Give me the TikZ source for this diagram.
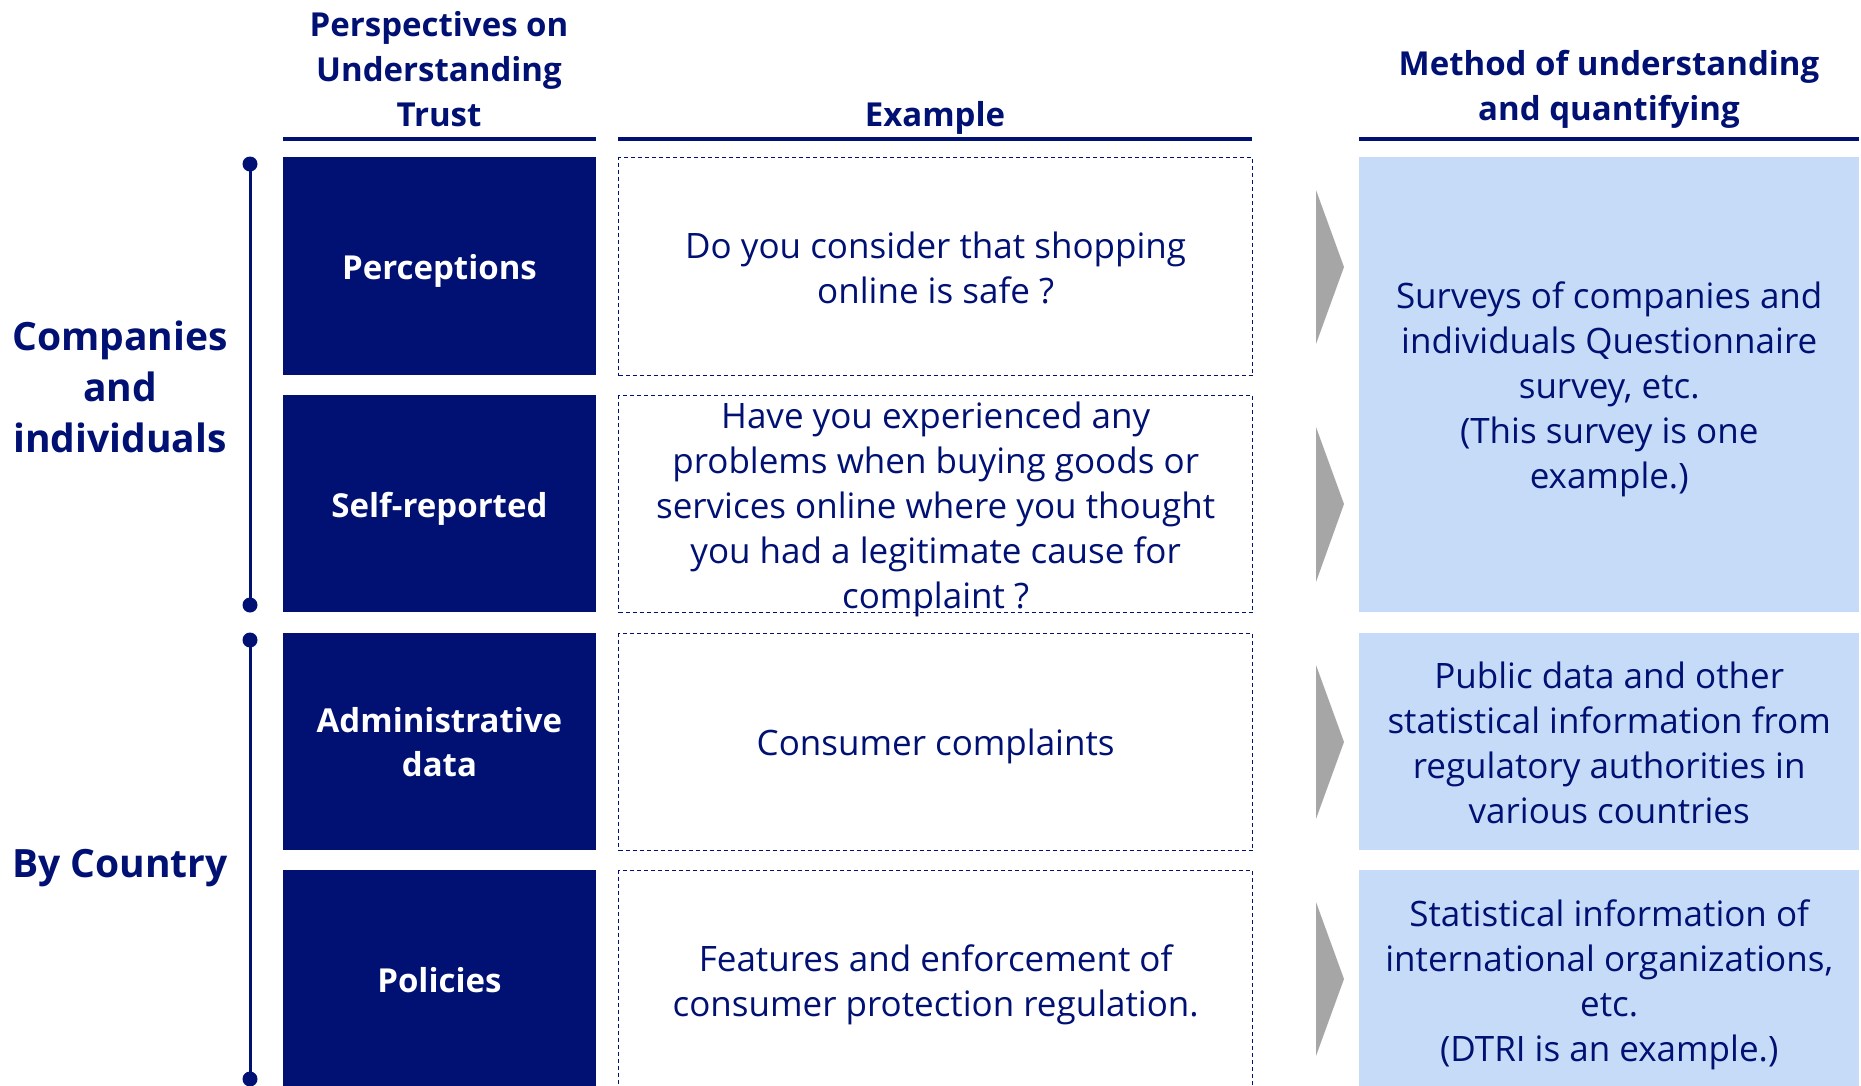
\documentclass[tikz,border=0pt]{standalone}
\usepackage{fontspec}
\setmainfont{Open Sans}
\definecolor{navy}{RGB}{0,16,115}
\definecolor{lightblue}{RGB}{198,219,247}
\definecolor{arrowgray}{RGB}{166,166,166}
\begin{document}
\begin{tikzpicture}[x=1pt,y=-1pt,
  cell/.style={inner sep=0pt, anchor=north west, minimum height=217pt},
  darkbox/.style={cell, fill=navy, minimum width=313.5pt},
  examplebox/.style={cell, draw=navy, dashed, dash pattern=on 4pt off 3pt, line width=1.3pt, minimum width=634pt},
  methodbox/.style={cell, fill=lightblue, minimum width=500pt},
  darktext/.style={inner sep=0pt, align=center, text=white, font=\bfseries\fontsize{33}{44}\selectfont},
  bodytext/.style={inner sep=0pt, align=center, text=navy, font=\fontsize{35}{45}\selectfont},
  header/.style={text=navy, align=center, font=\bfseries\fontsize{33}{45}\selectfont, inner sep=0pt},
  headrule/.style={draw=navy, line width=3.5pt},
  sidelabel/.style={text=navy, align=center, font=\bfseries\fontsize{39}{51}\selectfont, inner sep=0pt},
  bracket/.style={draw=navy, line width=3pt},
  dot/.style={fill=navy},
  chevron/.style={fill=arrowgray}
]
\useasboundingbox (0,0) rectangle (1861,1085);

% headers
\node[header] (h1) at (439,69) {Perspectives on\\Understanding\\Trust};
\node[header] (h2) at (935,117.5) {Example};
\node[header] (h3) at (1609,89) {Method of understanding\\and quantifying};
\draw[headrule] (282.5,139) -- (596,139);
\draw[headrule] (618,139) -- (1252,139);
\draw[headrule] (1359,139) -- (1859,139);

% perspective boxes
\node[darkbox, minimum height=218pt] (p1) at (282.5,157) {};
\node[darkbox] (p2) at (282.5,395) {};
\node[darkbox] (p3) at (282.5,633) {};
\node[darkbox] (p4) at (282.5,870) {};
\node[darktext, yshift=-4.7pt] (tp1) at (p1.center) {Perceptions};
\node[darktext, yshift=-4.7pt] (tp2) at (p2.center) {Self-reported};
\node[darktext, yshift=-0.6pt] (tp3) at (p3.center) {Administrative\\data};
\node[darktext, yshift=-1.5pt] (tp4) at (p4.center) {Policies};

% example boxes
\node[examplebox, minimum height=218pt] (e1) at (618,157) {};
\node[examplebox] (e2) at (618,395) {};
\node[examplebox] (e3) at (618,633) {};
\node[examplebox] (e4) at (618,870) {};
\node[bodytext, yshift=-1.2pt] (te1) at (e1.center) {Do you consider that shopping\\online is safe ?};
\node[bodytext, yshift=-5.3pt] (te2) at (e2.center) {Have you experienced any\\problems when buying goods or\\services online where you thought\\you had a legitimate cause for\\complaint ?};
\node[bodytext, yshift=-4.7pt] (te3) at (e3.center) {Consumer complaints};
\node[bodytext, yshift=-5.9pt] (te4) at (e4.center) {Features and enforcement of\\consumer protection regulation.};

% method boxes
\node[methodbox, minimum height=455pt] (m1) at (1359,157) {};
\node[methodbox] (m2) at (1359,633) {};
\node[methodbox] (m3) at (1359,870) {};
\node[bodytext, yshift=-4.7pt] (tm1) at (m1.center) {Surveys of companies and\\individuals Questionnaire\\survey, etc.\\(This survey is one\\example.)};
\node[bodytext, yshift=-1.2pt] (tm2) at (m2.center) {Public data and other\\statistical information from\\regulatory authorities in\\various countries};
\node[bodytext, yshift=-5.9pt] (tm3) at (m3.center) {Statistical information of\\international organizations,\\etc.\\(DTRI is an example.)};

% chevrons
\fill[chevron] (1316,190) -- (1344,267) -- (1316,344) -- cycle;
\fill[chevron] (1316,427) -- (1344,504) -- (1316,582) -- cycle;
\fill[chevron] (1316,665) -- (1344,742) -- (1316,819) -- cycle;
\fill[chevron] (1316,902) -- (1344,979) -- (1316,1056) -- cycle;

% side brackets
\coordinate (b1t) at (250,164);
\coordinate (b1b) at (250,605);
\coordinate (b2t) at (250,640);
\coordinate (b2b) at (250,1079);
\draw[bracket] (b1t) -- (b1b);
\draw[bracket] (b2t) -- (b2b);
\fill[dot] (b1t) circle (7.5);
\fill[dot] (b1b) circle (7.5);
\fill[dot] (b2t) circle (7.5);
\fill[dot] (b2b) circle (7.5);

% side labels
\node[sidelabel] (s1) at (120,387) {Companies\\and\\individuals};
\node[sidelabel] (s2) at (120,868) {By Country};
\end{tikzpicture}
\end{document}
